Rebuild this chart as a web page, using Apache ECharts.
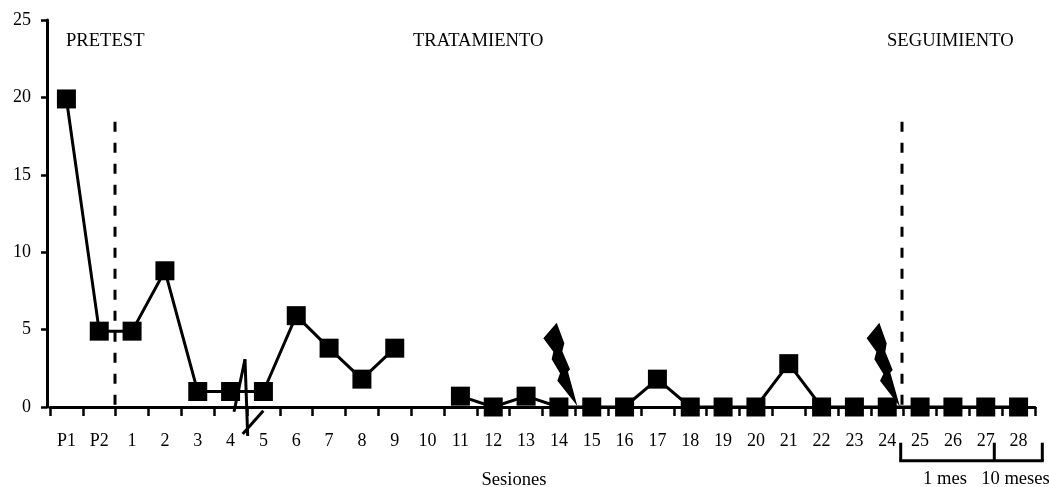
<!DOCTYPE html>
<html><head><meta charset="utf-8">
<style>html,body{margin:0;padding:0;background:#fff}#c{width:1049px;height:487px}</style>
<script src="https://cdn.jsdelivr.net/npm/echarts@6/dist/echarts.min.js"></script>
</head><body><div id="c"></div>
<script>
const categories = ['P1','P2','1','2','3','4','5','6','7','8','9','10','11','12','13','14','15','16','17','18','19','20','21','22','23','24','25','26','27','28'];
const values = [19.9,4.9,4.9,8.8,1,1,1,5.9,3.8,1.8,3.8,null,0.7,0,0.7,0,0,0,1.8,0,0,0,2.8,0,0,0,0,0,0,0];
const yTicks = [0,5,10,15,20,25];
const phases = ['PRETEST','TRATAMIENTO','SEGUIMIENTO'];
const FONT = '"Liberation Serif","Times New Roman",serif';

const txt = (x,y,t,align) => ({type:'text',x,y,style:{text:t,fill:'#000',font:'18.6px '+FONT,align:align||'left',verticalAlign:'middle'},z:10});
const ln = (x1,y1,x2,y2,w,dash) => ({type:'line',shape:{x1,y1,x2,y2},style:{stroke:'#000',lineWidth:w||3,lineDash:dash||null},z:5});
const bolt = (ox,oy,pts) => ({type:'polygon',shape:{points:pts.map(p=>[ox+p[0]/3,oy+p[1]/3])},style:{fill:'#000'},z:6});

const chart = echarts.init(document.getElementById('c'),null,{renderer:'canvas'});
chart.setOption({
  animation:false,
  backgroundColor:'#fff',
  grid:{left:50,right:14,top:20,bottom:80,containLabel:false},
  xAxis:{type:'category',data:categories,boundaryGap:true,
    axisLine:{onZero:true,lineStyle:{color:'#000',width:3}},
    axisTick:{show:true,alignWithLabel:false,interval:0,length:9,lineStyle:{color:'#000',width:2.5}},
    axisLabel:{interval:0,color:'#000',fontFamily:FONT,fontSize:18,margin:25},
    splitLine:{show:false}},
  yAxis:{type:'value',min:0,max:25,interval:yTicks[1]-yTicks[0],offset:3,
    axisLine:{show:true,lineStyle:{color:'#000',width:3}},
    axisTick:{show:true,length:6,lineStyle:{color:'#000',width:2.5}},
    axisLabel:{color:'#000',fontFamily:FONT,fontSize:18,margin:16},
    splitLine:{show:false}},
  series:[{type:'line',data:values,connectNulls:false,symbol:'rect',symbolSize:19,showAllSymbol:true,
    lineStyle:{color:'#000',width:3},itemStyle:{color:'#000'},z:3}],
  graphic:[
    txt(66,41.5,phases[0]),txt(413,41.5,phases[1]),txt(887,41.5,phases[2]),
    txt(514,480,'Sesiones','center'),txt(945,479,'1 mes','center'),txt(1015.5,479,'10 meses','center'),
    ln(115,121.7,115,407,3,[10,11]),ln(902,121.7,902,407,3,[10,11]),
    ln(234,411.7,245,359.3),ln(245,359.3,247.7,436),ln(242.7,434,263.3,410.7),
    bolt(520,310,[[110,38],[133,100],[127,124],[150,178],[144,185],[172,288],[112,212],[120,190],[95,148],[100,125],[70,85]]),
    bolt(850,310,[[88,38],[110,100],[106,125],[128,180],[121,188],[150,290],[90,212],[100,192],[73,148],[79,125],[50,85]]),
    ln(900.7,442.7,900.7,460.7),ln(994.3,442.7,994.3,460.7),ln(1042.3,442.7,1042.3,460.7),ln(899.2,460.7,1043.8,460.7)
  ]
});
</script></body></html>
